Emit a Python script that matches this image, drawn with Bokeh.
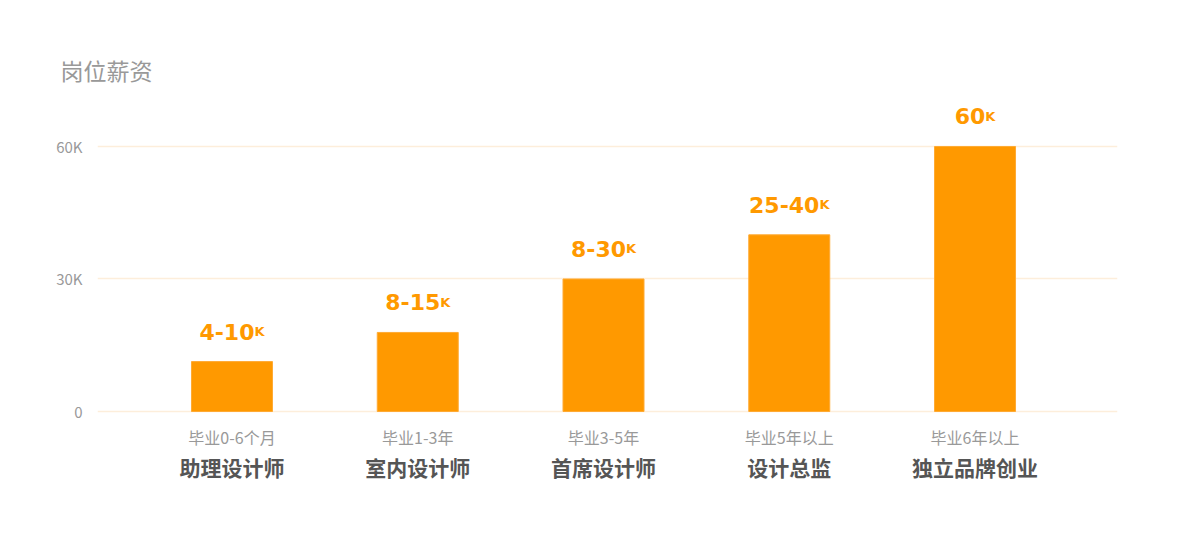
from bokeh.plotting import figure
from bokeh.models import ColumnDataSource, Range1d, FixedTicker
from bokeh.core.properties import value
from bokeh.embed import file_html
from bokeh.resources import INLINE

# data
roles = ["助理设计师", "室内设计师", "首席设计师", "设计总监", "独立品牌创业"]
stages = ["毕业0-6个月", "毕业1-3年", "毕业3-5年", "毕业5年以上", "毕业6年以上"]
salary_top = [11.3, 17.9, 30, 40, 60]          # bar height, thousands
salary_text = ["4-10", "8-15", "8-30", "25-40", "60"]
unit = "K"
y_ticks = [0, 30, 60]
y_tick_labels = ["0", "30K", "60K"]

ORANGE = "#FF9900"
CJK = "Noto Sans CJK SC"
NUM = "DejaVu Sans"

# rough DejaVu Sans Bold advance widths, used to centre "4-10" + small "K"
def text_width(s, size):
    w = {"-": 0.415, "K": 0.775}
    return sum(w.get(c, 0.696) for c in s) * size

main_size, k_size = 22, 13
offsets = []
for t in salary_text:
    mw = text_width(t, main_size)
    kw = text_width(unit, k_size)
    offsets.append(mw - (mw + kw) / 2)

idx = list(range(len(roles)))
src = ColumnDataSource(dict(x=idx, top=salary_top, txt=salary_text,
                            k=[unit] * len(idx), off=offsets,
                            stage=stages, role=roles, zero=[0] * len(idx)))

p = figure(width=1186, height=536, output_backend="svg", toolbar_location=None,
           x_range=Range1d(-0.724, 4.767), y_range=Range1d(-20.15, 73.13),
           min_border_left=97, min_border_right=69, min_border_bottom=36,
           min_border_top=88)

p.title.text = "岗位薪资"
p.title.text_font = CJK
p.title.text_font_size = "23px"
p.title.text_font_style = "normal"
p.title.text_color = "#999999"
p.title.align = "left"
p.title.offset = -37
p.title.standoff = 4

p.outline_line_color = None
p.xaxis.visible = False
p.xgrid.grid_line_color = None
p.ygrid.ticker = FixedTicker(ticks=y_ticks)
p.ygrid.grid_line_color = "#fdeedb"
p.ygrid.grid_line_width = 1.5

ax = p.yaxis[0]
ax.ticker = FixedTicker(ticks=y_ticks)
ax.major_label_overrides = dict(zip(y_ticks, y_tick_labels))
ax.axis_line_color = None
ax.major_tick_line_color = None
ax.minor_tick_line_color = None
ax.major_label_standoff = 9
ax.major_label_text_font = CJK
ax.major_label_text_font_size = "15px"
ax.major_label_text_color = "#999999"

p.vbar(x="x", top="top", bottom=0, width=0.436, source=src,
       fill_color=ORANGE, line_color="#FFAA33", line_width=1)

# value labels above the bars
p.text(x="x", y="top", text="txt", source=src, x_offset="off", y_offset=-30,
       text_align="right", text_baseline="alphabetic",
       text_font=value(NUM), text_font_style="bold",
       text_font_size=f"{main_size}px", text_color=ORANGE)
p.text(x="x", y="top", text="k", source=src, x_offset="off", y_offset=-30,
       text_align="left", text_baseline="alphabetic",
       text_font=value(NUM), text_font_style="bold",
       text_font_size=f"{k_size}px", text_color=ORANGE)

# two-line category labels under the bars
p.text(x="x", y="zero", text="stage", source=src, y_offset=25,
       text_align="center", text_baseline="middle",
       text_font=value(CJK), text_font_size="16px", text_color="#999999")
p.text(x="x", y="zero", text="role", source=src, y_offset=55,
       text_align="center", text_baseline="middle",
       text_font=value(CJK), text_font_style="bold",
       text_font_size="21px", text_color="#555555")

open("out.html", "w").write(file_html(p, INLINE))
